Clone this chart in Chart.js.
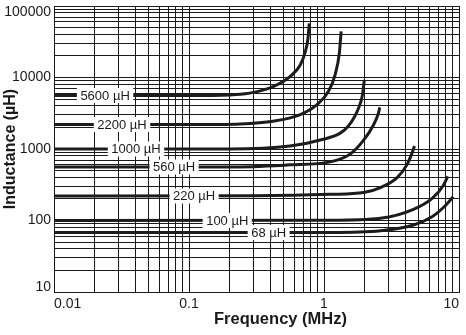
<!DOCTYPE html>
<html>
<head>
<meta charset="utf-8">
<script src="https://cdn.jsdelivr.net/npm/chart.js@4.4.0/dist/chart.umd.min.js"></script>
<style>
  html, body { margin: 0; padding: 0; background: #fff; }
  #wrap { width: 466px; height: 335px; position: relative; }
</style>
</head>
<body>
<div id="wrap"><canvas id="chart"></canvas></div>
<script>
// Inductance vs frequency, one curve per part value (MHz, µH)
var f5600 = [0.01, 0.1, 0.2, 0.24, 0.32, 0.42, 0.56, 0.667, 0.727, 0.761, 0.778];
var l5600 = [5600, 5600, 5700, 5820, 6350, 7460, 10300, 14950, 23000, 35300, 57300];

var f2200 = [0.01, 0.1, 0.24, 0.42, 0.667, 0.887, 1.08, 1.21, 1.3, 1.34];
var l2200 = [2200, 2200, 2245, 2445, 3030, 4180, 6420, 11000, 22100, 44300];

var f1000 = [0.01, 0.1, 0.2, 0.56, 0.99, 1.3, 1.5, 1.68, 1.82, 1.92, 1.99];
var l1000 = [1000, 1000, 1000, 1100, 1370, 1640, 2050, 2800, 3900, 5500, 9230];

var f560 = [0.01, 0.2, 0.56, 1.11, 1.57, 1.96, 2.32, 2.53, 2.59];
var l560 = [560, 560, 600, 660, 855, 1320, 2150, 3160, 3830];

var f220 = [0.01, 0.3, 1.11, 1.97, 2.62, 3.48, 4.13, 4.5, 4.68];
var l220 = [220, 222, 232, 246, 288, 397, 609, 890, 1104];

var f100 = [0.01, 1.11, 2.62, 4.6, 6.36, 7.67, 8.26];
var l100 = [100, 101, 107.5, 143, 205, 311, 415];

var f68 = [0.01, 1.11, 2.62, 4.6, 6.36, 7.67, 9.06];
var l68 = [68, 68, 71.8, 86.6, 114, 152, 215];

// curve names, their nominal value and where along the curve the name sits
var curveNames = ['5600 µH', '2200 µH', '1000 µH', '560 µH', '220 µH', '100 µH', '68 µH'];
var nominal = [5600, 2200, 1000, 560, 220, 100, 68];
var nameFreq = [0.0239, 0.0319, 0.0405, 0.0775, 0.109, 0.192, 0.389];

var xTickLabels = ['0.01', '0.1', '1', '10'];
var yTickLabels = ['10', '100', '1000', '10000', '100000'];
var xTitle = 'Frequency (MHz)';

var FONT = '"Liberation Sans", Arial, Helvetica, sans-serif';
var INK = '#1a1a1a';

// log grid: 1..9 in every decade
function logTicks(labels) {
  var out = [];
  for (var i = 0; i < labels.length - 1; i++) {
    var d = Number(labels[i]);
    for (var k = 1; k <= 9; k++) out.push(Number((d * k).toPrecision(3)));
  }
  out.push(Number(labels[labels.length - 1]));
  return out;
}
var xTicks = logTicks(xTickLabels);
var yTicks = logTicks(yTickLabels);

function pts(fs, ls) {
  return fs.map(function (f, i) { return { x: f, y: ls[i] }; });
}

var series = [[f5600, l5600], [f2200, l2200], [f1000, l1000], [f560, l560],
              [f220, l220], [f100, l100], [f68, l68]];

var datasets = series.map(function (s, i) {
  return {
    label: curveNames[i],
    data: pts(s[0], s[1]),
    borderColor: '#1c1c1c',
    borderWidth: 3,
    pointRadius: 0,
    fill: false,
    cubicInterpolationMode: 'monotone'
  };
});

// white boxed names sitting on the curves
var curveNamePlugin = {
  id: 'curveNames',
  afterDatasetsDraw: function (chart) {
    var ctx = chart.ctx, xs = chart.scales.x, ys = chart.scales.y;
    ctx.save();
    ctx.font = '13px ' + FONT;
    curveNames.forEach(function (name, i) {
      var px = xs.getPixelForValue(nameFreq[i]);
      var py = ys.getPixelForValue(nominal[i]);
      var w = ctx.measureText(name).width + 7;
      ctx.fillStyle = '#fff';
      ctx.fillRect(px - w / 2, py - 7.5, w, 15);
      ctx.fillStyle = INK;
      ctx.textAlign = 'center';
      ctx.textBaseline = 'middle';
      ctx.fillText(name, px, py + 0.5);
    });
    ctx.restore();
  }
};

// y decade labels (end ones pulled inside the plot) and the x axis title
var axisTextPlugin = {
  id: 'axisText',
  afterDraw: function (chart) {
    var ctx = chart.ctx, ys = chart.scales.y, area = chart.chartArea;
    ctx.save();
    ctx.font = '14px ' + FONT;
    ctx.fillStyle = INK;
    ctx.textAlign = 'right';
    ctx.textBaseline = 'middle';
    yTickLabels.forEach(function (t) {
      var py = ys.getPixelForValue(Number(t));
      py = Math.min(Math.max(py, area.top + 6), area.bottom - 5);
      ctx.fillText(t, area.left - 3, py);
    });
    ctx.font = 'bold 16.5px ' + FONT;
    ctx.textAlign = 'center';
    ctx.textBaseline = 'alphabetic';
    ctx.fillText(xTitle, (area.left + area.right) / 2 + 24, chart.height - 11);
    ctx.restore();
  }
};

function setTicks(values) {
  return function (scale) {
    scale.ticks = values.map(function (v) { return { value: v }; });
  };
}

new Chart(document.getElementById('chart'), {
  type: 'line',
  data: { datasets: datasets },
  options: {
    responsive: true,
    maintainAspectRatio: false,
    animation: false,
    layout: { padding: { top: 6, right: 7, left: 0, bottom: 0 } },
    plugins: { legend: { display: false }, tooltip: { enabled: false } },
    scales: {
      x: {
        type: 'logarithmic',
        min: 0.01,
        max: 10,
        afterBuildTicks: setTicks(xTicks),
        afterFit: function (scale) { scale.height = 43; },
        grid: { color: INK, lineWidth: 1, drawTicks: false },
        border: { color: INK, width: 1 },
        ticks: {
          autoSkip: false,
          maxRotation: 0,
          align: 'inner',
          padding: 4,
          color: INK,
          font: { family: FONT, size: 14 },
          callback: function (v) {
            var hit = xTickLabels.filter(function (t) { return Math.abs(Number(t) - v) < 1e-9; });
            return hit.length ? hit[0] : '';
          }
        },
        title: { display: false }
      },
      y: {
        type: 'logarithmic',
        min: 10,
        max: 100000,
        afterBuildTicks: setTicks(yTicks),
        afterFit: function (scale) { scale.width = 54; },
        grid: { color: INK, lineWidth: 1, drawTicks: false },
        border: { color: INK, width: 1 },
        ticks: { display: false },
        title: {
          display: true,
          text: 'Inductance (µH)',
          color: INK,
          font: { family: FONT, size: 16, weight: 'bold' },
          padding: { top: 1, bottom: 0 }
        }
      }
    }
  },
  plugins: [curveNamePlugin, axisTextPlugin]
});
</script>
</body>
</html>
